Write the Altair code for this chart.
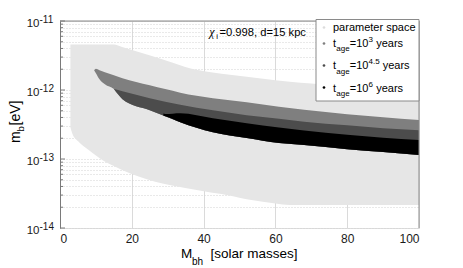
import altair as alt
import pandas as pd

FONT = "Liberation Sans"

# ---- parameter space (light gray) ----
param_M  = [2.9, 3.4, 5, 8, 12.6, 15, 17.3, 21.9, 26.5, 31.2, 34.9, 42, 45, 52, 60, 64, 70, 85, 100]
param_hi = [4.55e-12, 4.55e-12, 4.55e-12, 4.55e-12, 4.55e-12, 4.55e-12, 4.2e-12, 3.56e-12, 3.01e-12,
            2.50e-12, 2.16e-12, 1.81e-12, 1.72e-12, 1.55e-12, 1.39e-12, 1.32e-12, 1.24e-12, 1.06e-12, 9.3e-13]
param_lo = [2.89e-13, 2.37e-13, 1.82e-13, 1.35e-13, 9.1e-14, 7.89e-14, 6.91e-14, 5.56e-14, 4.68e-14,
            4.12e-14, 3.79e-14, 3.27e-14, 3.10e-14, 2.60e-14, 2.26e-14, 2.15e-14, 2.15e-14, 2.15e-14, 2.15e-14]

# ---- t_age = 10^3 years (medium gray) ----
t3_M  = [9.5, 10, 11, 12.5, 15, 17.4, 25, 29.3, 33.5, 42.6, 52, 61, 68, 80, 90, 100]
t3_hi = [1.93e-12, 2.03e-12, 1.93e-12, 1.81e-12, 1.64e-12, 1.48e-12, 1.17e-12, 1.03e-12, 9.14e-13,
         7.61e-13, 6.66e-13, 5.73e-13, 5.19e-13, 4.47e-13, 4.04e-13, 3.66e-13]
t3_lo = [1.93e-12, 1.75e-12, 1.43e-12, 1.21e-12, 1.03e-12, 7.36e-13, 5.10e-13, 4.18e-13, 3.42e-13,
         2.45e-13, 2.01e-13, 1.70e-13, 1.59e-13, 1.39e-13, 1.26e-13, 1.14e-13]

# ---- t_age = 10^4.5 years (dark gray) ----
t45_M  = [15, 17.4, 25, 29.3, 33.5, 42.6, 52, 61, 68, 80, 90, 100]
t45_hi = [1.03e-12, 9.61e-13, 7.61e-13, 6.77e-13, 6.13e-13, 5.10e-13, 4.32e-13, 3.84e-13, 3.48e-13,
          3.09e-13, 2.80e-13, 2.62e-13]
t45_lo = [1.03e-12, 7.36e-13, 5.10e-13, 4.18e-13, 3.42e-13, 2.45e-13, 2.01e-13, 1.70e-13, 1.59e-13,
          1.39e-13, 1.26e-13, 1.14e-13]

# ---- t_age = 10^6 years (black) ----
t6_M  = [28.8, 29.3, 33.5, 42.6, 52, 61, 68, 80, 90, 100]
t6_hi = [4.55e-13, 4.50e-13, 4.62e-13, 3.91e-13, 3.31e-13, 2.85e-13, 2.58e-13, 2.25e-13, 2.04e-13, 1.88e-13]
t6_lo = [4.25e-13, 4.18e-13, 3.42e-13, 2.45e-13, 2.01e-13, 1.70e-13, 1.59e-13, 1.39e-13, 1.26e-13, 1.14e-13]

region_colors = ["#e6e6e6", "#7f7f7f", "#4c4c4c", "#000000"]

# ---- axes ----
x_ticks = [0, 20, 40, 60, 80, 100]
y_major = [1e-11, 1e-12, 1e-13, 1e-14]
y_major_exp = ["-11", "-12", "-13", "-14"]
y_minor = [m * 10.0 ** e for e in (-14, -13, -12) for m in range(2, 10)]

W, H = 359, 207

xscale = alt.Scale(domain=[0, 100], nice=False, zero=False)
yscale = alt.Scale(type="log", domain=[1e-14, 1e-11], nice=False)
xaxis = alt.Axis(values=x_ticks, grid=True, gridColor="#dadada", gridWidth=1, domain=False,
                 ticks=False, tickSize=0, labelPadding=5.5, labelFontSize=12, labelFont=FONT,
                 labelColor="#1a1a1a", title=None)
yaxis = alt.Axis(values=y_major + y_minor, grid=True, gridDash=[1, 2], gridColor="#d2d2d2",
                 labels=False, ticks=False, domain=True, domainColor="#7a7a7a", title=None)


def region(M, hi, lo, color):
    df = pd.DataFrame({"M": M, "hi": hi, "lo": lo})
    return alt.Chart(df).mark_area(color=color, interpolate="monotone", opacity=1).encode(
        x=alt.X("M:Q", scale=xscale, axis=xaxis),
        y=alt.Y("hi:Q", scale=yscale, axis=yaxis),
        y2="lo:Q",
    )


def txt(s, x, y, size, align="left", angle=0, font=FONT, style="normal", color="#000000"):
    return alt.Chart(pd.DataFrame({"s": [s]})).mark_text(
        align=align, baseline="alphabetic", fontSize=size, font=font, angle=angle,
        fontStyle=style, color=color,
    ).encode(x=alt.value(x), y=alt.value(y), text="s:N")


layers = [
    region(param_M, param_hi, param_lo, region_colors[0]),
    region(t3_M, t3_hi, t3_lo, region_colors[1]),
    region(t45_M, t45_hi, t45_lo, region_colors[2]),
    region(t6_M, t6_hi, t6_lo, region_colors[3]),
]

# frame: top and right border
layers.append(alt.Chart(pd.DataFrame({"a": [0]})).mark_rule(color="#8a8a8a", strokeWidth=1).encode(
    x=alt.value(0), x2=alt.value(W), y=alt.value(0)))
layers.append(alt.Chart(pd.DataFrame({"a": [0]})).mark_rule(color="#8a8a8a", strokeWidth=1).encode(
    x=alt.value(W), y=alt.value(0), y2=alt.value(H)))

# inward y ticks
layers.append(alt.Chart(pd.DataFrame({"v": y_minor})).mark_rule(color="#7a7a7a").encode(
    x=alt.value(0), x2=alt.value(3), y=alt.Y("v:Q", scale=yscale, axis=yaxis)))
layers.append(alt.Chart(pd.DataFrame({"v": y_major})).mark_rule(color="#7a7a7a").encode(
    x=alt.value(0), x2=alt.value(5), y=alt.Y("v:Q", scale=yscale, axis=yaxis)))

# y tick labels 10^-k
ylab_df = pd.DataFrame({"v": y_major, "e": y_major_exp})
layers.append(alt.Chart(ylab_df).mark_text(align="right", baseline="alphabetic", dy=5.5,
                                           fontSize=11.5, font=FONT, color="#1a1a1a").encode(
    x=alt.value(-20.5), y=alt.Y("v:Q", scale=yscale, axis=yaxis), text=alt.value("10")))
layers.append(alt.Chart(ylab_df).mark_text(align="left", baseline="alphabetic", dy=2,
                                           fontSize=10, font=FONT, color="#1a1a1a").encode(
    x=alt.value(-20.5), y=alt.Y("v:Q", scale=yscale, axis=yaxis), text="e:N"))

# axis titles
layers += [
    txt("M", 121, 237.3, 13.5),
    txt("bh", 132, 243.5, 10),
    txt("[solar masses]", 150.5, 237.3, 13.5),
    txt("m", -40, 122, 14, angle=270),
    txt("b", -36, 110.5, 9.5, angle=270),
    txt("[eV]", -40, 104.5, 14, angle=270),
]

# annotation
layers += [
    txt("χ", 149.3, 14.7, 12, font="Liberation Serif", style="italic"),
    txt("i", 156.2, 18, 8),
    txt("=0.998, d=15 kpc", 159.5, 14.7, 11.2),
]

# legend box
layers.append(alt.Chart(pd.DataFrame({"a": [0]})).mark_rect(fill="white", stroke="#8a8a8a", strokeWidth=1).encode(
    x=alt.value(256), x2=alt.value(359), y=alt.value(-1.5), y2=alt.value(80)))

legend_dot_y = [6.5, 22.5, 44.5, 66.5]
legend_dot_c = ["#dcdcdc", "#7f7f7f", "#4c4c4c", "#000000"]
for yy, cc in zip(legend_dot_y, legend_dot_c):
    layers.append(alt.Chart(pd.DataFrame({"a": [0]})).mark_point(filled=True, size=7, shape="circle",
                                                                 opacity=1, color=cc).encode(
        x=alt.value(264), y=alt.value(yy)))

legend_sup = ["3", "4.5", "6"]
legend_t_base = [25.7, 48.3, 70.7]
legend_sup_end = [313, 319.5, 313]
LF = 11
SF = 8
layers.append(txt("parameter space", 273, 9.7, LF))
for sup, yb, se in zip(legend_sup, legend_t_base, legend_sup_end):
    layers += [
        txt("t", 273, yb, LF),
        txt("age", 276.3, yb + 4.5, SF),
        txt("=10", 289.8, yb, LF),
        txt(sup, 308.5, yb - 5, SF),
        txt("years", se + 3.2, yb, LF),
    ]

chart = alt.layer(*layers).properties(
    width=W, height=H,
    autosize=alt.AutoSizeParams(type="none"),
    padding={"left": 52, "top": 13, "right": 12, "bottom": 40},
).configure_view(stroke=None).configure(font=FONT)

chart.save("out.html", embed_options={"renderer": "svg", "actions": False})
